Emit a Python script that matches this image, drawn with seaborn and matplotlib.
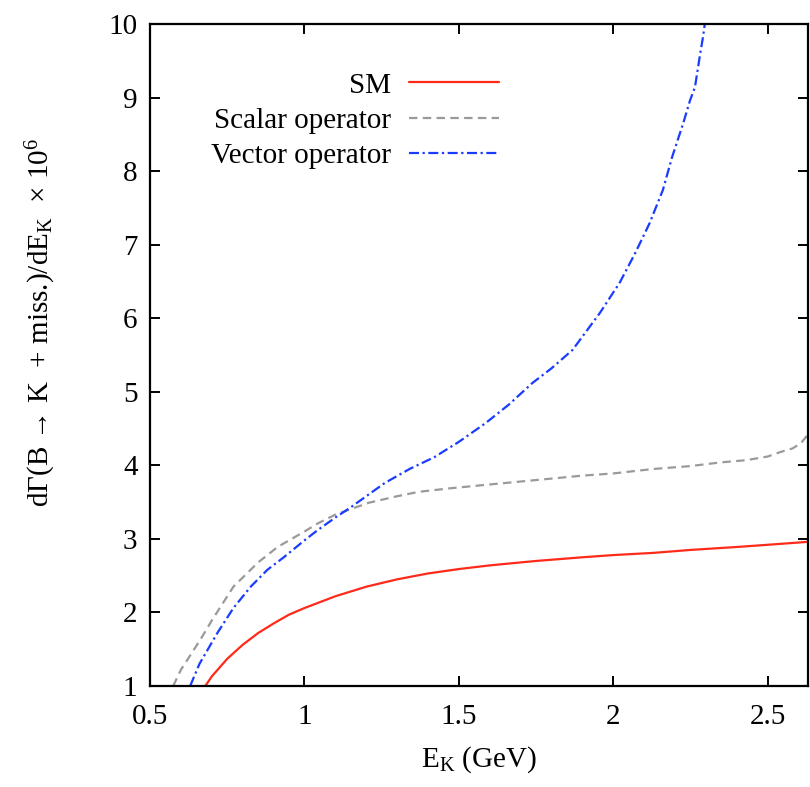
import matplotlib
matplotlib.use("Agg")
import matplotlib.pyplot as plt
import seaborn as sns
import pandas as pd

# ---- data ----
sm_x = [0.679, 0.70, 0.75, 0.80, 0.85, 0.90, 0.95, 1.00, 1.10, 1.20, 1.30, 1.40,
        1.50, 1.60, 1.75, 1.90, 2.00, 2.13, 2.25, 2.40, 2.50, 2.63]
sm_y = [1.00, 1.13, 1.37, 1.56, 1.72, 1.85, 1.97, 2.06, 2.22, 2.35, 2.45, 2.53,
        2.59, 2.64, 2.70, 2.75, 2.78, 2.81, 2.85, 2.89, 2.92, 2.96]

scalar_x = [0.575, 0.60, 0.663, 0.70, 0.77, 0.85, 0.913, 1.00, 1.043, 1.10, 1.207,
            1.30, 1.37, 1.477, 1.575, 1.75, 1.90, 2.00, 2.128, 2.25, 2.347, 2.43,
            2.50, 2.54, 2.58, 2.607, 2.63]
scalar_y = [1.00, 1.22, 1.63, 1.89, 2.35, 2.68, 2.89, 3.10, 3.21, 3.33, 3.49,
            3.58, 3.64, 3.69, 3.73, 3.80, 3.86, 3.89, 3.95, 3.99, 4.04, 4.07,
            4.12, 4.18, 4.23, 4.30, 4.42]

vector_x = [0.63, 0.66, 0.718, 0.77, 0.826, 0.88, 0.933, 1.00, 1.043, 1.10, 1.15,
            1.26, 1.34, 1.42, 1.50, 1.585, 1.66, 1.738, 1.80, 1.868, 1.956, 2.02,
            2.07, 2.117, 2.16, 2.19, 2.226, 2.248, 2.264, 2.28, 2.29, 2.296]
vector_y = [1.00, 1.30, 1.72, 2.06, 2.35, 2.58, 2.75, 2.98, 3.12, 3.29, 3.43,
            3.76, 3.95, 4.11, 4.32, 4.57, 4.82, 5.12, 5.32, 5.57, 6.07, 6.48,
            6.88, 7.29, 7.74, 8.19, 8.65, 8.96, 9.14, 9.57, 9.82, 10.0]

labels = ["SM", "Scalar operator", "Vector operator"]
x_ticks = [0.5, 1, 1.5, 2, 2.5]
x_tick_labels = ["0.5", "1", "1.5", "2", "2.5"]
y_ticks = list(range(1, 11))

# ---- style ----
sns.set_theme(style="ticks")
plt.rcParams["font.family"] = ["Liberation Serif", "DejaVu Serif"]
plt.rcParams["mathtext.fontset"] = "custom"
plt.rcParams["mathtext.rm"] = "Liberation Serif"
plt.rcParams["mathtext.it"] = "Liberation Serif:italic"
plt.rcParams["text.color"] = "black"
plt.rcParams["axes.labelcolor"] = "black"
FS = 21

fig = plt.figure(figsize=(8.10, 7.87), dpi=100)
ax = fig.add_axes([150 / 810, 1 - 686 / 787, 658 / 810, 662 / 787])

df_sm = pd.DataFrame({"x": sm_x, "y": sm_y})
df_sc = pd.DataFrame({"x": scalar_x, "y": scalar_y})
df_ve = pd.DataFrame({"x": vector_x, "y": vector_y})

sns.lineplot(data=df_sm, x="x", y="y", ax=ax, sort=False, estimator=None,
             color="#ff2a1a", linewidth=1.6, label=labels[0])
sns.lineplot(data=df_sc, x="x", y="y", ax=ax, sort=False, estimator=None,
             color="#9a9a9a", linewidth=1.6, linestyle=(0, (3.8, 2.4)),
             label=labels[1])
sns.lineplot(data=df_ve, x="x", y="y", ax=ax, sort=False, estimator=None,
             color="#1a3cff", linewidth=1.6, linestyle=(0, (4.5, 1.6, 1.0, 1.6)),
             label=labels[2])

ax.set_xlim(0.5, 2.63)
ax.set_ylim(1, 10)
ax.set_xticks(x_ticks)
ax.set_xticklabels(x_tick_labels)
ax.set_yticks(y_ticks)
ax.tick_params(direction="in", length=7, width=1.4, top=True, right=True,
               labelsize=FS, colors="black")
ax.tick_params(axis="x", pad=13)
ax.tick_params(axis="y", pad=9)
for s in ax.spines.values():
    s.set_linewidth(1.6)
    s.set_color("black")
    s.set_visible(True)

ax.set_xlabel(r"E$_{\rm K}$ (GeV)", fontsize=FS)
ax.set_ylabel(r"dΓ(B → K  + miss.)/dE$_{\rm K}$  × 10$^{6}$", fontsize=FS)
ax.xaxis.set_label_coords(0.5, -0.088)
ax.yaxis.set_label_coords(-0.14, 0.55)

leg = ax.legend(loc="upper right", bbox_to_anchor=(0.562, 0.958), frameon=False,
                markerfirst=False, fontsize=FS, handlelength=3.1,
                handletextpad=0.6, labelspacing=0.3, borderpad=0.2)
for t in leg.get_texts():
    t.set_color("black")

fig.savefig("out.png", dpi=100)
